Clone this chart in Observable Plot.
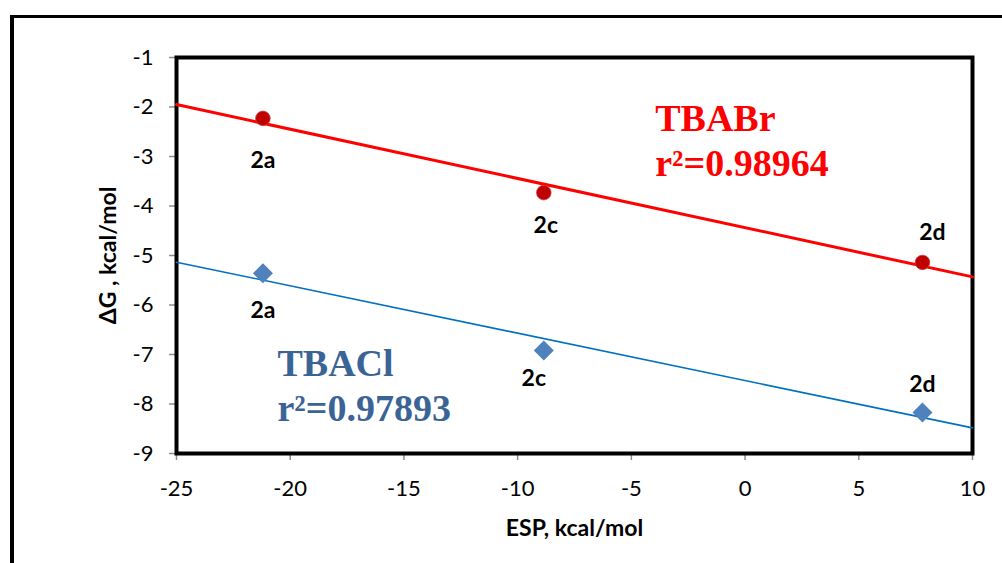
<!DOCTYPE html>
<html>
<head>
<meta charset="utf-8">
<script src="https://cdn.jsdelivr.net/npm/d3@7"></script>
<script src="https://cdn.jsdelivr.net/npm/@observablehq/plot@0.6"></script>
<style>
  html, body { margin: 0; padding: 0; background: #fff; overflow: hidden; }
  #wrap { position: relative; width: 1002px; height: 563px; }
  #border { position: absolute; left: 10px; top: 15px; width: 1100px; height: 700px;
            border-left: 4px solid #000; border-top: 3px solid #000; box-sizing: border-box; pointer-events: none; }
  #chart { position: absolute; left: 0; top: 0; }
</style>
</head>
<body>
<div id="wrap"><div id="chart"></div><div id="border"></div></div>
<script>
// ---- data ----
const compounds = ["2a", "2c", "2d"];
const esp = [-21.2, -8.85, 7.8];          // ESP, kcal/mol
const dG_TBABr = [-2.23, -3.73, -5.14];   // ΔG, kcal/mol (TBABr)
const dG_TBACl = [-5.36, -6.92, -8.17];   // ΔG, kcal/mol (TBACl)
const xTicks = [-25, -20, -15, -10, -5, 0, 5, 10];
const yTicks = [-9, -8, -7, -6, -5, -4, -3, -2, -1];
const seriesNames = ["TBABr", "TBACl"];
const r2Labels = ["r²=0.98964", "r²=0.97893"];

// ---- derived tables ----
const br = compounds.map((c, i) => ({c, x: esp[i], y: dG_TBABr[i]}));
const cl = compounds.map((c, i) => ({c, x: esp[i], y: dG_TBACl[i]}));
function fit(pts) {
  const mx = d3.mean(pts, d => d.x), my = d3.mean(pts, d => d.y);
  const sxy = d3.sum(pts, d => (d.x - mx) * (d.y - my));
  const sxx = d3.sum(pts, d => (d.x - mx) ** 2);
  const b = sxy / sxx, a = my - b * mx;
  return [xTicks[0], xTicks[xTicks.length - 1]].map(x => ({x, y: a + b * x}));
}
const brLine = fit(br), clLine = fit(cl);

const RED = "#ff0000", DARKRED = "#c00000", BLUE = "#0070c0", BLUEPT = "#4f81bd", BLUETXT = "#3a6496";
const lbl = {x: "x", y: "y", text: "c", fontSize: 23, fontWeight: "bold", fill: "#000", textAnchor: "middle", lineAnchor: "middle"};
const serif = {fontFamily: "'Liberation Serif', 'Times New Roman', serif", fontWeight: "bold", fontSize: 38,
               textAnchor: "start", lineAnchor: "middle", text: d => d};

const plot = Plot.plot({
  width: 1002,
  height: 563,
  marginLeft: 176,
  marginRight: 30,
  marginTop: 57,
  marginBottom: 110,
  style: {fontFamily: "Lato, 'Open Sans', sans-serif", background: "transparent", color: "#000"},
  x: {domain: [-25, 10]},
  y: {domain: [-9, -1]},
  marks: [
    Plot.axisX({ticks: xTicks, tickSize: 7, tickPadding: 20, stroke: "#8c8c8c", strokeWidth: 1.5, fill: "#000",
                fontSize: 22, tickFormat: d => String(d), label: null}),
    Plot.axisY({ticks: yTicks, tickSize: 7, tickPadding: 16, stroke: "#8c8c8c", strokeWidth: 1.5, fill: "#000",
                fontSize: 22, tickFormat: d => String(d), label: null}),
    Plot.frame({stroke: "#000", strokeWidth: 4}),
    Plot.line(brLine, {x: "x", y: "y", stroke: RED, strokeWidth: 3}),
    Plot.line(clLine, {x: "x", y: "y", stroke: BLUE, strokeWidth: 1.6}),
    Plot.dot(br, {x: "x", y: "y", r: 7.3, fill: DARKRED, stroke: "#d04040", strokeWidth: 0.8, symbol: "circle"}),
    Plot.dot(cl, {x: "x", y: "y", r: 9, fill: BLUEPT, symbol: "diamond2"}),
    // point labels
    Plot.text(br.filter(d => d.c === "2a"), {...lbl, dy: 42}),
    Plot.text(br.filter(d => d.c === "2c"), {...lbl, dy: 33, dx: 2}),
    Plot.text(br.filter(d => d.c === "2d"), {...lbl, dy: -30, dx: 10}),
    Plot.text(cl.filter(d => d.c === "2a"), {...lbl, dy: 37}),
    Plot.text(cl.filter(d => d.c === "2c"), {...lbl, dy: 28, dx: -10}),
    Plot.text(cl.filter(d => d.c === "2d"), {...lbl, dy: -28}),
    // series annotations
    Plot.text([seriesNames[0]], {...serif, x: -3.95, y: -2.23, fill: RED}),
    Plot.text([r2Labels[0]], {...serif, x: -3.95, y: -3.14, fill: RED}),
    Plot.text([seriesNames[1]], {...serif, x: -20.56, y: -7.18, fill: BLUETXT}),
    Plot.text([r2Labels[1]], {...serif, x: -20.56, y: -8.09, fill: BLUETXT}),
    // axis titles
    Plot.text(["ESP, kcal/mol"], {frameAnchor: "bottom", text: d => d, textAnchor: "middle", lineAnchor: "middle",
      dy: 75, fontSize: 23, fontWeight: "bold", fill: "#000"}),
    Plot.text(["ΔG , kcal/mol"], {frameAnchor: "left", text: d => d, textAnchor: "middle", lineAnchor: "middle",
      dx: -68, rotate: -90, fontSize: 23, fontWeight: "bold", fill: "#000"})
  ]
});
document.getElementById("chart").appendChild(plot);
</script>
</body>
</html>
